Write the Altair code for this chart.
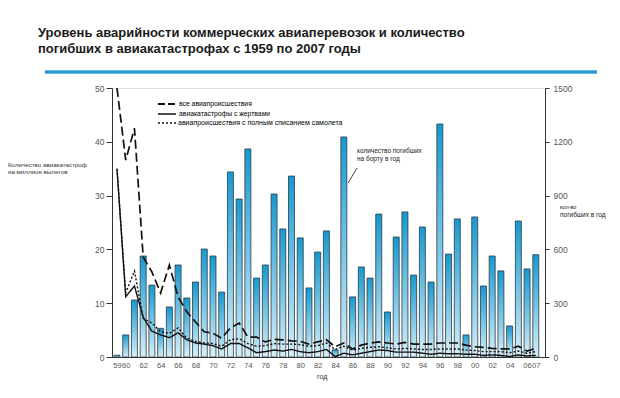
import altair as alt
import pandas as pd

years = list(range(1959, 2008))

# deaths on board per year (right axis)
deaths = [10, 123, 318, 563, 401, 160, 279, 513, 329, 418,
          602, 563, 362, 1032, 881, 1160, 440, 513, 909, 714,
          1009, 664, 385, 585, 703, 40, 1227, 335, 502, 440,
          797, 251, 669, 809, 457, 725, 418, 1299, 574, 770,
          123, 781, 396, 563, 480, 173, 758, 491, 570]

# rates per million departures (left axis)
all_accidents = [50, 36.6, 42.5, 18.6, 15.8, 11.9, 17.1, 11.2, 8.4, 6.5,
                 4.7, 4.4, 3.5, 5.4, 6.3, 3.7, 3.7, 2.8, 3.3, 3.2,
                 3.0, 2.9, 2.4, 2.8, 3.2, 1.9, 2.6, 1.5, 2.2, 2.6,
                 2.8, 2.6, 2.4, 2.7, 2.4, 2.4, 2.4, 2.6, 2.6, 2.6,
                 2.2, 1.9, 1.8, 1.6, 1.5, 1.5, 2.0, 1.1, 1.6]
fatal = [35, 11.2, 13.2, 7.4, 4.8, 4.1, 3.6, 4.5, 3.2, 2.6,
         2.4, 2.1, 1.5, 2.5, 2.5, 1.7, 0.8, 1.0, 1.3, 1.1,
         1.4, 1.0, 0.8, 1.0, 1.4, 0.1, 0.7, 0.4, 0.7, 1.0,
         1.3, 1.2, 0.9, 0.9, 0.9, 0.7, 0.5, 0.7, 0.6, 0.6,
         0.5, 0.5, 0.3, 0.4, 0.3, 0.1, 0.4, 0.2, 0.3]
hull_loss = [35, 11.9, 16.0, 7.2, 6.3, 4.7, 4.4, 5.4, 3.5, 2.9,
             2.6, 2.5, 2.0, 3.2, 3.4, 2.5, 2.0, 2.1, 2.5, 2.4,
             2.4, 2.3, 2.0, 2.1, 2.6, 1.4, 2.0, 1.3, 1.6, 1.8,
             1.9, 1.7, 1.5, 1.6, 1.5, 1.4, 1.4, 1.5, 1.5, 1.5,
             1.3, 1.2, 1.0, 1.0, 1.0, 0.8, 1.1, 0.7, 1.0]

x_label_years = [1959, 1960] + list(range(1962, 2007, 2)) + [2007]
left_ticks = [0, 10, 20, 30, 40, 50]
right_ticks = [0, 300, 600, 900, 1200, 1500]

title_lines = ["Уровень аварийности коммерческих авиаперевозок и количество",
               "погибших в авиакатастрофах с 1959 по 2007 годы"]
legend_labels = ["все авиапроисшествия", "авиакатастрофы с жертвами",
                 "авиапроисшествия с полным списанием самолета"]

FONT = "Liberation Sans"
W, H = 433, 269

df = pd.DataFrame({"year": years, "deaths": deaths, "all": all_accidents,
                   "fatal": fatal, "hull": hull_loss})

xenc = alt.X("year:Q",
             scale=alt.Scale(domain=[1959, 2007.48], nice=False, zero=False),
             axis=alt.Axis(values=x_label_years,
                           labelExpr="substring(toString(datum.value), 2, 4)",
                           ticks=False, grid=False, title=None,
                           labelFont=FONT, labelFontSize=7.6, labelColor="#555",
                           labelPadding=4, domainColor="#333",
                           labelOverlap=False, labelFlush=False))

base = alt.Chart(df)

bars = base.mark_bar(
    width=6,
    color=alt.Gradient(gradient="linear", x1=0, x2=0, y1=0, y2=1,
                       stops=[alt.GradientStop(offset=0, color="#1699cf"),
                              alt.GradientStop(offset=1, color="#d6eff9")]),
    stroke="#2c3a44", strokeWidth=0.8
).encode(
    x=xenc,
    y=alt.Y("deaths:Q", scale=alt.Scale(domain=[0, 1500], nice=False),
            axis=alt.Axis(orient="right", values=right_ticks, grid=False, title=None,
                          format="d",
                          labelFont=FONT, labelFontSize=8.5, labelColor="#555",
                          tickSize=4, tickColor="#333", domainColor="#333",
                          labelPadding=4))
)

yleft = alt.Y("v:Q", scale=alt.Scale(domain=[0, 50], nice=False),
              axis=alt.Axis(orient="left", values=left_ticks, grid=False, title=None,
                            labelFont=FONT, labelFontSize=8.5, labelColor="#555",
                            tickSize=6, tickColor="#333", domainColor="#333",
                            labelPadding=2))

def rate_line(field, dash, width):
    return base.transform_calculate(v=f"datum['{field}']").mark_line(
        color="#111", strokeWidth=width, strokeDash=dash
    ).encode(x=xenc, y=yleft)

lines = alt.layer(
    rate_line("all", [9, 4], 1.7),
    rate_line("fatal", [1, 0], 1.4),
    rate_line("hull", [2, 2], 1.4),
)

def txt(s, x, y, size=7, bold=False, color="#222", align="left"):
    return alt.Chart(pd.DataFrame({"t": [s]})).mark_text(
        align=align, baseline="middle", font=FONT, fontSize=size,
        fontWeight="bold" if bold else "normal", color=color
    ).encode(x=alt.value(x), y=alt.value(y), text="t:N")

def hrule(x1, x2, y, dash, width, color="#111"):
    return alt.Chart(pd.DataFrame({"a": [0]})).mark_rule(
        color=color, strokeWidth=width, strokeDash=dash
    ).encode(x=alt.value(x1), x2=alt.value(x2), y=alt.value(y))

annotations = [
    txt(title_lines[0], -74, -55, size=13, bold=True, color="#1a1a1a"),
    txt(title_lines[1], -74, -39, size=13, bold=True, color="#1a1a1a"),
    hrule(-67, 485, -16, [1, 0], 3.5, color="#2aa0d2"),
    hrule(46, 64, 16, [7, 3], 2.2),
    hrule(46, 64, 26, [1, 0], 1.6),
    hrule(46, 64, 35, [2, 2], 1.6),
    txt(legend_labels[0], 67, 16, size=6.8, color="#000"),
    txt(legend_labels[1], 67, 26, size=6.8, color="#000"),
    txt(legend_labels[2], 66, 35, size=7, color="#000"),
    txt("количество погибших", 245, 63, size=6.5),
    txt("на борту в год", 245, 71, size=6.5),
    alt.Chart(pd.DataFrame({"a": [0]})).mark_rule(color="#111", strokeWidth=0.8).encode(
        x=alt.value(245), x2=alt.value(236), y=alt.value(80), y2=alt.value(95)),
    txt("кол-во", 448, 119, size=5.5),
    txt("погибших в год", 448, 127, size=6.5),
    txt("Количество авиакатастроф", -104, 77, size=6.2, color="#333"),
    txt("на миллион вылетов", -104, 84, size=6.2, color="#333"),
    txt("год", 205, 289, size=7, color="#333"),
]

chart = alt.layer(bars, lines, *annotations).resolve_scale(y="independent").properties(
    width=W, height=H,
    padding={"left": 104, "top": 80, "right": 66, "bottom": 28},
    autosize=alt.AutoSizeParams(type="none"),
).configure_view(stroke=None).configure(background="white")

chart.save("out.html", embed_options={"renderer": "svg", "actions": False})
